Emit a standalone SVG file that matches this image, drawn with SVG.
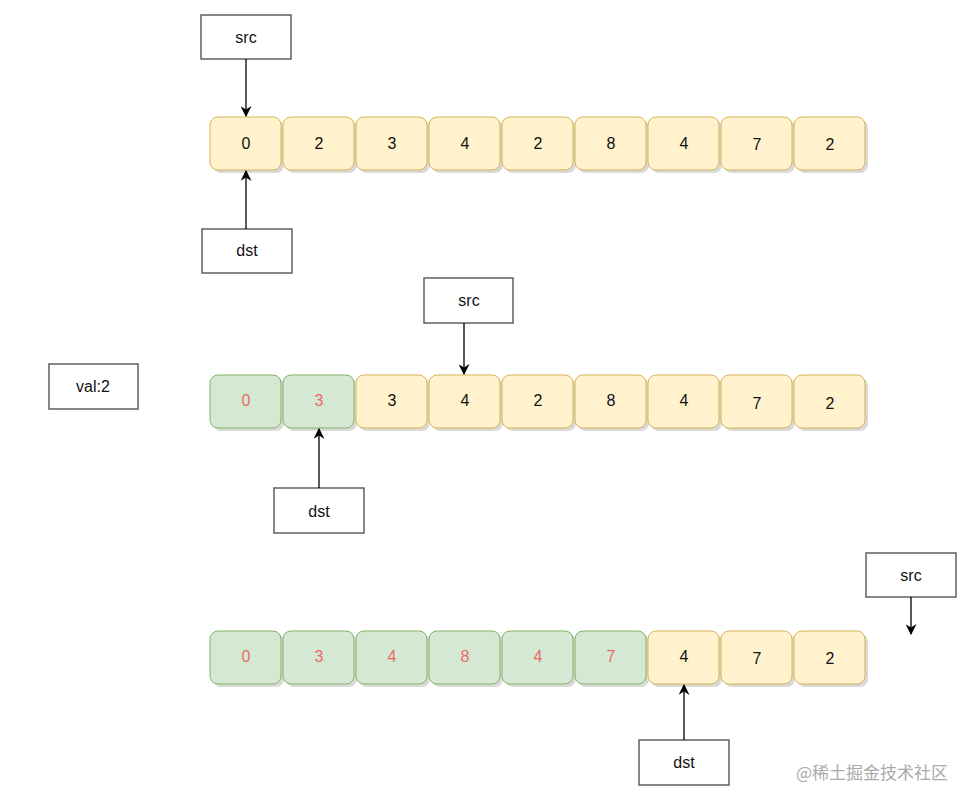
<svg xmlns="http://www.w3.org/2000/svg" width="979" height="804" viewBox="0 0 979 804">
<defs>
<marker id="ah" viewBox="0 0 10 10" refX="9" refY="5" markerWidth="11" markerHeight="11" markerUnits="userSpaceOnUse" orient="auto">
<path d="M0,0 L10,5 L0,10 L3,5 Z" fill="#000"/>
</marker>
</defs>
<style>
.y{fill:#fff2cc;stroke:#d6b656;stroke-width:1}
.g{fill:#d5e8d4;stroke:#82b366;stroke-width:1}
.sh{fill:#000;opacity:0.15}
.t{font-family:"Liberation Sans",Arial,sans-serif;font-size:16px;text-anchor:middle;dominant-baseline:central;fill:#111}
.r{fill:#ea6b66}
.b{fill:#fff;stroke:#555;stroke-width:1.4}
.c{stroke:#000;stroke-width:1.3;fill:none;marker-end:url(#ah)}
.w{font-family:"Noto Sans CJK SC","Liberation Sans",sans-serif;font-size:17px;fill:#aaa}
</style>
<rect width="979" height="804" fill="#fff"/>

<g id="row1">
<g id="r1c0"><rect class="sh" x="213" y="120" width="71" height="53" rx="8"/><rect class="y" x="210" y="117" width="71" height="53" rx="8"/><text class="t" x="246" y="143">0</text></g>
<g id="r1c1"><rect class="sh" x="286" y="120" width="71" height="53" rx="8"/><rect class="y" x="283" y="117" width="71" height="53" rx="8"/><text class="t" x="319" y="143">2</text></g>
<g id="r1c2"><rect class="sh" x="359" y="120" width="71" height="53" rx="8"/><rect class="y" x="356" y="117" width="71" height="53" rx="8"/><text class="t" x="392" y="143">3</text></g>
<g id="r1c3"><rect class="sh" x="432" y="120" width="71" height="53" rx="8"/><rect class="y" x="429" y="117" width="71" height="53" rx="8"/><text class="t" x="465" y="143">4</text></g>
<g id="r1c4"><rect class="sh" x="505" y="120" width="71" height="53" rx="8"/><rect class="y" x="502" y="117" width="71" height="53" rx="8"/><text class="t" x="538" y="143">2</text></g>
<g id="r1c5"><rect class="sh" x="578" y="120" width="71" height="53" rx="8"/><rect class="y" x="575" y="117" width="71" height="53" rx="8"/><text class="t" x="611" y="143">8</text></g>
<g id="r1c6"><rect class="sh" x="651" y="120" width="71" height="53" rx="8"/><rect class="y" x="648" y="117" width="71" height="53" rx="8"/><text class="t" x="684" y="143">4</text></g>
<g id="r1c7"><rect class="sh" x="724" y="120" width="71" height="53" rx="8"/><rect class="y" x="721" y="117" width="71" height="53" rx="8"/><text class="t" x="757" y="144">7</text></g>
<g id="r1c8"><rect class="sh" x="797" y="120" width="71" height="53" rx="8"/><rect class="y" x="794" y="117" width="71" height="53" rx="8"/><text class="t" x="830" y="144">2</text></g>
</g>

<g id="row2">
<g id="r2c0"><rect class="sh" x="213" y="378" width="71" height="53" rx="8"/><rect class="g" x="210" y="375" width="71" height="53" rx="8"/><text class="t r" x="246" y="400">0</text></g>
<g id="r2c1"><rect class="sh" x="286" y="378" width="71" height="53" rx="8"/><rect class="g" x="283" y="375" width="71" height="53" rx="8"/><text class="t r" x="319" y="400">3</text></g>
<g id="r2c2"><rect class="sh" x="359" y="378" width="71" height="53" rx="8"/><rect class="y" x="356" y="375" width="71" height="53" rx="8"/><text class="t" x="392" y="400">3</text></g>
<g id="r2c3"><rect class="sh" x="432" y="378" width="71" height="53" rx="8"/><rect class="y" x="429" y="375" width="71" height="53" rx="8"/><text class="t" x="465" y="400">4</text></g>
<g id="r2c4"><rect class="sh" x="505" y="378" width="71" height="53" rx="8"/><rect class="y" x="502" y="375" width="71" height="53" rx="8"/><text class="t" x="538" y="400">2</text></g>
<g id="r2c5"><rect class="sh" x="578" y="378" width="71" height="53" rx="8"/><rect class="y" x="575" y="375" width="71" height="53" rx="8"/><text class="t" x="611" y="400">8</text></g>
<g id="r2c6"><rect class="sh" x="651" y="378" width="71" height="53" rx="8"/><rect class="y" x="648" y="375" width="71" height="53" rx="8"/><text class="t" x="684" y="400">4</text></g>
<g id="r2c7"><rect class="sh" x="724" y="378" width="71" height="53" rx="8"/><rect class="y" x="721" y="375" width="71" height="53" rx="8"/><text class="t" x="757" y="403">7</text></g>
<g id="r2c8"><rect class="sh" x="797" y="378" width="71" height="53" rx="8"/><rect class="y" x="794" y="375" width="71" height="53" rx="8"/><text class="t" x="830" y="403">2</text></g>
</g>

<g id="row3">
<g id="r3c0"><rect class="sh" x="213" y="634" width="71" height="53" rx="8"/><rect class="g" x="210" y="631" width="71" height="53" rx="8"/><text class="t r" x="246" y="656">0</text></g>
<g id="r3c1"><rect class="sh" x="286" y="634" width="71" height="53" rx="8"/><rect class="g" x="283" y="631" width="71" height="53" rx="8"/><text class="t r" x="319" y="656">3</text></g>
<g id="r3c2"><rect class="sh" x="359" y="634" width="71" height="53" rx="8"/><rect class="g" x="356" y="631" width="71" height="53" rx="8"/><text class="t r" x="392" y="656">4</text></g>
<g id="r3c3"><rect class="sh" x="432" y="634" width="71" height="53" rx="8"/><rect class="g" x="429" y="631" width="71" height="53" rx="8"/><text class="t r" x="465" y="656">8</text></g>
<g id="r3c4"><rect class="sh" x="505" y="634" width="71" height="53" rx="8"/><rect class="g" x="502" y="631" width="71" height="53" rx="8"/><text class="t r" x="538" y="656">4</text></g>
<g id="r3c5"><rect class="sh" x="578" y="634" width="71" height="53" rx="8"/><rect class="g" x="575" y="631" width="71" height="53" rx="8"/><text class="t r" x="611" y="656">7</text></g>
<g id="r3c6"><rect class="sh" x="651" y="634" width="71" height="53" rx="8"/><rect class="y" x="648" y="631" width="71" height="53" rx="8"/><text class="t" x="684" y="656">4</text></g>
<g id="r3c7"><rect class="sh" x="724" y="634" width="71" height="53" rx="8"/><rect class="y" x="721" y="631" width="71" height="53" rx="8"/><text class="t" x="757" y="658">7</text></g>
<g id="r3c8"><rect class="sh" x="797" y="634" width="71" height="53" rx="8"/><rect class="y" x="794" y="631" width="71" height="53" rx="8"/><text class="t" x="830" y="658">2</text></g>
</g>

<g id="src1"><rect class="b" x="201" y="15" width="90" height="44"/><text class="t" x="246" y="37">src</text></g>
<g id="dst1"><rect class="b" x="202" y="229" width="90" height="44"/><text class="t" x="247" y="250">dst</text></g>
<g id="src2"><rect class="b" x="424" y="278" width="89" height="45"/><text class="t" x="469" y="300">src</text></g>
<g id="val"><rect class="b" x="49" y="364" width="89" height="45"/><text class="t" x="93" y="386">val:2</text></g>
<g id="dst2"><rect class="b" x="274" y="488" width="90" height="45"/><text class="t" x="319" y="511">dst</text></g>
<g id="src3"><rect class="b" x="866" y="553" width="90" height="44"/><text class="t" x="911" y="575">src</text></g>
<g id="dst3"><rect class="b" x="639" y="740" width="90" height="45"/><text class="t" x="684" y="762">dst</text></g>

<g id="connectors">
<line class="c" x1="246" y1="59" x2="246" y2="116"/>
<line class="c" x1="246" y1="229" x2="246" y2="171"/>
<line class="c" x1="464" y1="323" x2="464" y2="374"/>
<line class="c" x1="319" y1="488" x2="319" y2="429"/>
<line class="c" x1="911" y1="597" x2="911" y2="634"/>
<line class="c" x1="684" y1="740" x2="684" y2="685"/>
</g>

<text class="w" x="796" y="779">@稀土掘金技术社区</text>
</svg>
